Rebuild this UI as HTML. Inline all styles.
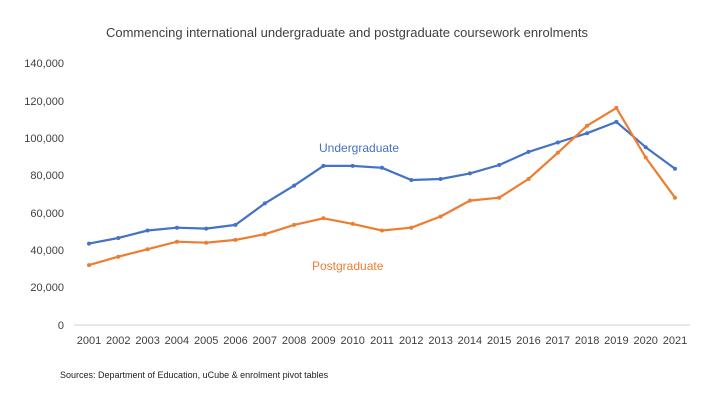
<!DOCTYPE html>
<html><head><meta charset="utf-8"><style>
html,body{margin:0;padding:0;background:#fff;}
svg{display:block;font-family:"Liberation Sans",sans-serif;}
</style></head><body>
<svg width="720" height="405" viewBox="0 0 720 405">
<rect width="720" height="405" fill="#fff"/>
<text x="347" y="37" font-size="13" fill="#404040" text-anchor="middle">Commencing international undergraduate and postgraduate coursework enrolments</text>
<g font-size="11" fill="#404040" text-anchor="end">
<text x="64" y="67">140,000</text>
<text x="64" y="105">120,000</text>
<text x="64" y="142">100,000</text>
<text x="64" y="179">80,000</text>
<text x="64" y="217">60,000</text>
<text x="64" y="254">40,000</text>
<text x="64" y="291">20,000</text>
<text x="64" y="329">0</text>
</g>
<line x1="74" y1="325" x2="690" y2="325" stroke="#d0d0d0" stroke-width="1"/>
<g font-size="11" fill="#404040" text-anchor="middle">
<text x="89" y="344">2001</text><text x="118.3" y="344">2002</text><text x="147.6" y="344">2003</text><text x="176.9" y="344">2004</text><text x="206.2" y="344">2005</text><text x="235.5" y="344">2006</text><text x="264.8" y="344">2007</text><text x="294.1" y="344">2008</text><text x="323.4" y="344">2009</text><text x="352.7" y="344">2010</text><text x="382" y="344">2011</text><text x="411.3" y="344">2012</text><text x="440.6" y="344">2013</text><text x="469.9" y="344">2014</text><text x="499.2" y="344">2015</text><text x="528.5" y="344">2016</text><text x="557.8" y="344">2017</text><text x="587.1" y="344">2018</text><text x="616.4" y="344">2019</text><text x="645.7" y="344">2020</text><text x="675" y="344">2021</text>
</g>
<polyline fill="none" stroke="#4472C4" stroke-width="2.2" stroke-linejoin="round" points="89,243.6 118.3,238 147.6,230.5 176.9,227.7 206.2,228.6 235.5,224.9 264.8,203.4 294.1,185.6 323.4,165.9 352.7,165.9 382,167.8 411.3,180 440.6,179 469.9,173.4 499.2,165 528.5,151.9 557.8,142.5 587.1,133.2 616.4,121.9 645.7,147.2 675,168.7"/>
<polyline fill="none" stroke="#ED7D31" stroke-width="2.2" stroke-linejoin="round" points="89,265.1 118.3,256.7 147.6,249.2 176.9,241.7 206.2,242.7 235.5,239.9 264.8,234.2 294.1,224.9 323.4,218.3 352.7,223.9 382,230.5 411.3,227.7 440.6,216.5 469.9,200.6 499.2,197.7 528.5,179 557.8,152.8 587.1,125.7 616.4,107.9 645.7,157.5 675,197.7"/>
<g fill="#4472C4">
<circle cx="89" cy="243.6" r="2"/><circle cx="118.3" cy="238" r="2"/><circle cx="147.6" cy="230.5" r="2"/><circle cx="176.9" cy="227.7" r="2"/><circle cx="206.2" cy="228.6" r="2"/><circle cx="235.5" cy="224.9" r="2"/><circle cx="264.8" cy="203.4" r="2"/><circle cx="294.1" cy="185.6" r="2"/><circle cx="323.4" cy="165.9" r="2"/><circle cx="352.7" cy="165.9" r="2"/><circle cx="382" cy="167.8" r="2"/><circle cx="411.3" cy="180" r="2"/><circle cx="440.6" cy="179" r="2"/><circle cx="469.9" cy="173.4" r="2"/><circle cx="499.2" cy="165" r="2"/><circle cx="528.5" cy="151.9" r="2"/><circle cx="557.8" cy="142.5" r="2"/><circle cx="587.1" cy="133.2" r="2"/><circle cx="616.4" cy="121.9" r="2"/><circle cx="645.7" cy="147.2" r="2"/><circle cx="675" cy="168.7" r="2"/>
</g>
<g fill="#ED7D31">
<circle cx="89" cy="265.1" r="2"/><circle cx="118.3" cy="256.7" r="2"/><circle cx="147.6" cy="249.2" r="2"/><circle cx="176.9" cy="241.7" r="2"/><circle cx="206.2" cy="242.7" r="2"/><circle cx="235.5" cy="239.9" r="2"/><circle cx="264.8" cy="234.2" r="2"/><circle cx="294.1" cy="224.9" r="2"/><circle cx="323.4" cy="218.3" r="2"/><circle cx="352.7" cy="223.9" r="2"/><circle cx="382" cy="230.5" r="2"/><circle cx="411.3" cy="227.7" r="2"/><circle cx="440.6" cy="216.5" r="2"/><circle cx="469.9" cy="200.6" r="2"/><circle cx="499.2" cy="197.7" r="2"/><circle cx="528.5" cy="179" r="2"/><circle cx="557.8" cy="152.8" r="2"/><circle cx="587.1" cy="125.7" r="2"/><circle cx="616.4" cy="107.9" r="2"/><circle cx="645.7" cy="157.5" r="2"/><circle cx="675" cy="197.7" r="2"/>
</g>
<text x="319" y="152" font-size="12" fill="#4472C4">Undergraduate</text>
<text x="312" y="270" font-size="12" fill="#ED7D31">Postgraduate</text>
<text x="60" y="378" font-size="9" fill="#202020">Sources: Department of Education, uCube &amp; enrolment pivot tables</text>
</svg>
</body></html>
